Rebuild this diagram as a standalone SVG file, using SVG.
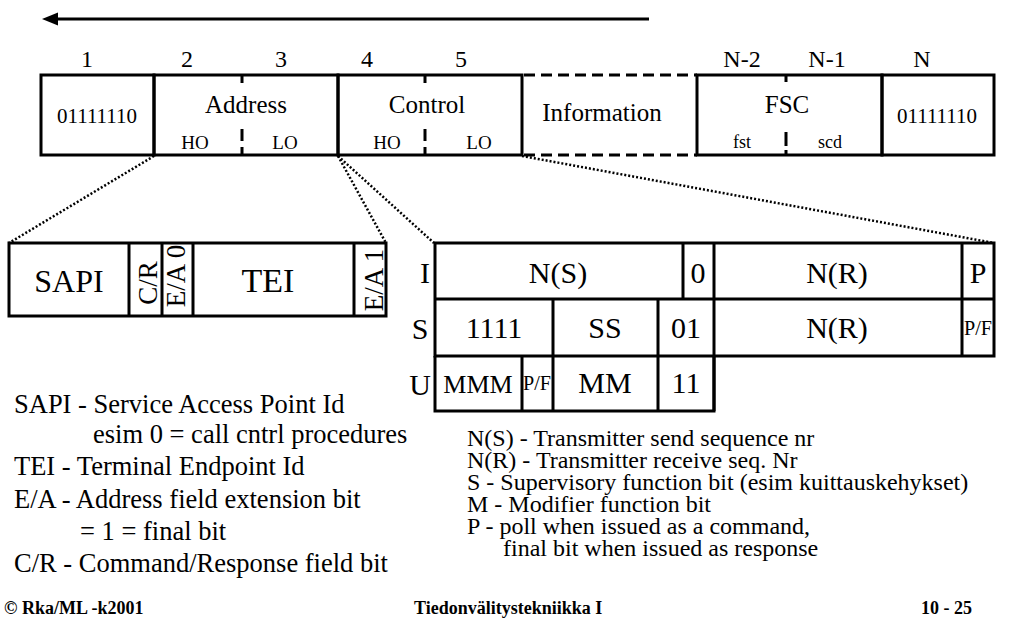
<svg xmlns="http://www.w3.org/2000/svg" width="1010" height="627" viewBox="0 0 1010 627">
<style>
text{font-family:"Liberation Serif","Times New Roman",serif;fill:#000}
.b{fill:none;stroke:#000;stroke-width:3}
.t{stroke:#000;stroke-width:3}
.dash{stroke:#000;stroke-width:3;stroke-dasharray:11 6}
.dot{stroke:#000;stroke-width:2.5;stroke-dasharray:2 2;fill:none}
.m{text-anchor:middle}
.n{font-size:24px;text-anchor:middle}
.f{font-size:25px;text-anchor:middle}
.s{font-size:19px;text-anchor:middle}
.c{font-size:30px;text-anchor:middle}
.leg{font-size:26.5px}
.leg2{font-size:24px}
.foot{font-size:18px;font-weight:bold}
</style>
<rect width="1010" height="627" fill="#fff"/>

<g id="direction-arrow">
<line x1="56" y1="19" x2="649" y2="19" class="t"/>
<polygon points="42,19 58,12.5 58,25.5" fill="#000"/>
</g>

<g id="octet-numbers">
<text x="87" y="67" class="n">1</text>
<text x="187" y="67" class="n">2</text>
<text x="281" y="67" class="n">3</text>
<text x="367" y="67" class="n">4</text>
<text x="461" y="67" class="n">5</text>
<text x="742" y="67" class="n">N-2</text>
<text x="827" y="67" class="n">N-1</text>
<text x="922" y="67" class="n">N</text>
</g>

<g id="flag-start">
<rect x="41" y="75" width="113" height="80" class="b"/>
<text x="97" y="123" style="font-size:21px" class="m">01111110</text>
</g>
<g id="address">
<rect x="154" y="75" width="184" height="80" class="b"/>
<path d="M242 75V83M242 129V141M242 147V155" class="t"/>
<text x="246" y="113" class="f">Address</text>
<text x="195" y="149" class="s">HO</text>
<text x="285" y="149" class="s">LO</text>
</g>
<g id="control">
<rect x="338" y="75" width="184" height="80" class="b"/>
<path d="M425 75V83M425 129V141M425 147V155" class="t"/>
<text x="427" y="113" class="f">Control</text>
<text x="387" y="149" class="s">HO</text>
<text x="479" y="149" class="s">LO</text>
</g>
<g id="information">
<line x1="524" y1="75" x2="697" y2="75" class="dash"/>
<line x1="524" y1="155" x2="697" y2="155" class="dash"/>
<text x="602" y="121" class="f">Information</text>
</g>
<g id="fsc">
<rect x="697" y="75" width="185" height="80" class="b"/>
<path d="M786 75V82M786 132V146M786 150V155" class="t"/>
<text x="787" y="113" class="f">FSC</text>
<text x="742" y="148" style="font-size:18px" class="m">fst</text>
<text x="830" y="148" style="font-size:18px" class="m">scd</text>
</g>
<g id="flag-end">
<rect x="882" y="75" width="112" height="80" class="b"/>
<text x="937" y="123" style="font-size:21px" class="m">01111110</text>
</g>

<g id="connectors">
<line x1="154" y1="156" x2="9" y2="243" class="dot"/>
<line x1="338" y1="156" x2="386" y2="243" class="dot"/>
<line x1="338" y1="156" x2="434" y2="243" class="dot"/>
<line x1="522" y1="156" x2="994" y2="243" class="dot"/>
</g>

<g id="address-detail">
<rect x="9" y="243" width="377" height="73" class="b"/>
<path d="M129 243V316M162 243V316M193 243V316M354 243V316" class="t"/>
<text x="69" y="292" style="font-size:32px" class="m">SAPI</text>
<text x="268" y="292" style="font-size:34px" class="m">TEI</text>
<text transform="translate(157,283) rotate(-90)" style="font-size:27px" class="m">C/R</text>
<text transform="translate(185,276) rotate(-90)" style="font-size:27px" class="m">E/A 0</text>
<text transform="translate(383,280) rotate(-90)" style="font-size:27px" class="m">E/A 1</text>
</g>

<g id="control-formats">
<text x="425" y="283" class="c">I</text>
<text x="420" y="339" class="c">S</text>
<text x="420" y="395" class="c">U</text>
<path d="M435 243H994V356H435Z" class="b"/>
<path d="M435 299H994M435 356V411H714V356" class="b"/>
<path d="M683 243V299M714 243V411M962 243V356M553 299V411M658 299V411M522 356V411" class="t"/>
<text x="558" y="283" class="c">N(S)</text>
<text x="698" y="283" class="c">0</text>
<text x="837" y="283" class="c">N(R)</text>
<text x="978" y="283" class="c">P</text>
<text x="494" y="338" class="c">1111</text>
<text x="605" y="338" class="c">SS</text>
<text x="686" y="338" class="c">01</text>
<text x="837" y="338" class="c">N(R)</text>
<text x="978" y="335" style="font-size:20px" class="m" textLength="28" lengthAdjust="spacingAndGlyphs">P/F</text>
<text x="478" y="393" style="font-size:26px" class="m">MMM</text>
<text x="537" y="390" style="font-size:20px" class="m" textLength="28" lengthAdjust="spacingAndGlyphs">P/F</text>
<text x="605" y="393" class="c">MM</text>
<text x="686" y="393" class="c">11</text>
</g>

<g id="legend-left" class="leg">
<text x="14" y="413">SAPI - Service Access Point Id</text>
<text x="93" y="443">esim 0 = call cntrl procedures</text>
<text x="14" y="475">TEI - Terminal Endpoint Id</text>
<text x="14" y="508">E/A - Address field extension bit</text>
<text x="80" y="540">= 1 = final bit</text>
<text x="14" y="572">C/R - Command/Response field bit</text>
</g>

<g id="legend-right" class="leg2">
<text x="467" y="446">N(S) - Transmitter send sequence nr</text>
<text x="467" y="468">N(R) - Transmitter receive seq. Nr</text>
<text x="467" y="490">S - Supervisory function bit (esim kuittauskehykset)</text>
<text x="467" y="512">M - Modifier function bit</text>
<text x="467" y="534">P - poll when issued as a command,</text>
<text x="503" y="556">final bit when issued as response</text>
</g>

<g id="footer" class="foot">
<text x="4" y="614">© Rka/ML -k2001</text>
<text x="414" y="614">Tiedonvälitystekniikka I</text>
<text x="921" y="614">10 - 25</text>
</g>
</svg>
